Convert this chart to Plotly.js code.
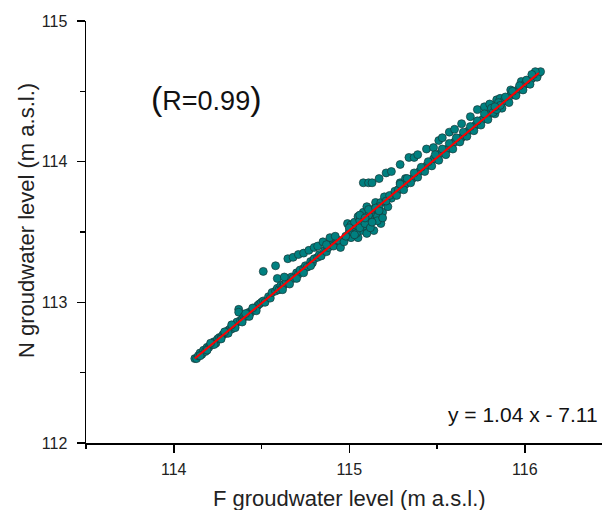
<!DOCTYPE html>
<html>
<head>
<meta charset="utf-8">
<script src="https://cdn.plot.ly/plotly-3.0.1.min.js"></script>
<style>html,body{margin:0;padding:0;background:#fff;}#chart{width:602px;height:510px;}</style>
</head>
<body>
<div id="chart"></div>
<script>
// F groundwater level (x) vs N groundwater level (y)
const bandAX = [114.12,114.13,114.14,114.15,114.16,114.17,114.18,114.19,114.20,114.21,114.22,114.23,114.24,114.25,114.26,114.27,114.28,114.29,114.30,114.31,114.32,114.33,114.34,114.35,114.36,114.37,114.37,114.38,114.39,114.40,114.41,114.42,114.43,114.44,114.45,114.46,114.47,114.48,114.49,114.50,
  114.15,114.19,114.23,114.27,114.31,114.35,114.39,114.43,114.47,114.21,114.29,114.33,114.41,114.45];
const bandAY = [112.60,112.60,112.62,112.64,112.63,112.66,112.65,112.68,112.68,112.70,112.70,112.72,112.71,112.74,112.75,112.75,112.77,112.78,112.78,112.80,112.81,112.81,112.83,112.84,112.86,112.95,112.93,112.87,112.88,112.90,112.90,112.92,112.93,112.93,112.95,112.96,112.96,112.98,112.99,113.00,
  112.62,112.66,112.70,112.74,112.78,112.82,112.86,112.90,112.94,112.71,112.79,112.84,112.92,112.96];

const bandBX = [114.51,114.52,114.54,114.55,114.56,114.58,114.59,114.60,114.61,114.62,114.63,114.64,114.66,114.67,114.68,114.70,114.71,114.72,114.74,114.75,114.76,114.78,114.79,114.80,114.82,114.83,114.84,114.86,114.87,114.88,114.90,114.91,114.93,114.94,
  114.62,114.66,114.70,114.74,114.78,
  114.51,114.58,114.59,114.63,114.65,114.68,114.71,114.74,114.77,114.80,114.82,114.85,114.89,114.87,114.92];
const bandBY = [113.01,113.00,113.04,113.03,113.07,113.08,113.10,113.09,113.12,113.11,113.13,113.15,113.16,113.18,113.17,113.21,113.20,113.23,113.24,113.26,113.25,113.29,113.28,113.31,113.32,113.34,113.33,113.37,113.36,113.39,113.41,113.40,113.44,113.44,
  113.09,113.13,113.17,113.21,113.26,
  113.22,113.26,113.17,113.18,113.31,113.32,113.34,113.35,113.37,113.39,113.40,113.43,113.46,113.41,113.47];

const knotX = [114.95,114.97,114.99,115.01,115.01,115.03,115.05,115.05,115.07,115.08,115.08,115.10,115.10,115.12,115.14,115.14,115.15,115.16,115.18,115.18,115.19,115.20,115.22,115.24,115.26,115.28,115.29,115.32,115.00,115.04,115.06,115.11,115.13,115.17,115.21,115.23,
  115.02,115.04,115.06,115.09,115.12,115.16,115.13,115.06,115.09,115.11,115.15,115.17,114.98,115.00,115.03,115.19];
const knotY = [113.39,113.43,113.56,113.46,113.55,113.57,113.46,113.61,113.51,113.54,113.64,113.49,113.68,113.59,113.51,113.64,113.71,113.61,113.56,113.71,113.64,113.75,113.68,113.74,113.78,113.80,113.85,113.88,113.50,113.52,113.58,113.62,113.66,113.68,113.72,113.76,
  113.50,113.49,113.53,113.56,113.53,113.58,113.57,113.62,113.60,113.66,113.67,113.65,113.47,113.53,113.48,113.60];

const upperX = [115.08,115.11,115.13,115.17,115.21,115.24,115.29,115.34,115.37,115.39,115.44,115.48,115.51,115.53,115.57,115.60,115.64,115.69,115.73,115.77,115.80,115.84,115.86,115.92,115.98];
const upperY = [113.85,113.85,113.85,113.88,113.92,113.93,113.98,114.03,114.03,114.05,114.09,114.10,114.15,114.17,114.21,114.23,114.27,114.32,114.37,114.39,114.41,114.44,114.45,114.51,114.57];

const bandDX = [115.26,115.28,115.30,115.32,115.34,115.36,115.38,115.40,115.42,115.44,115.46,115.48,115.50,115.52,115.54,115.56,115.58,115.60,115.62,115.64,115.66,115.68,115.70,115.72,115.74,115.76,115.78,115.80,115.82,115.84,115.86,115.88,115.90,115.92,115.94,115.96,115.98,116.00,116.02,116.04,116.06,116.08,
  115.27,115.31,115.35,115.39,115.43,115.47,115.51,115.55,115.59,115.63,115.67,115.71,115.75,115.79,115.83,115.87,115.91,115.95,115.99,116.03,116.07,
  115.29,115.33,115.37,115.41,115.45,115.49,115.53,115.57,115.61,115.65,115.69,115.73,115.77,115.81,115.85,115.89,115.93,115.97,116.01,116.05,
  115.82,115.84,115.86,115.83,116.09,116.06,116.04];
const bandDY = [113.79,113.80,113.83,113.84,113.87,113.88,113.91,113.93,113.95,113.97,113.99,114.02,114.03,114.06,114.08,114.09,114.12,114.14,114.16,114.17,114.20,114.22,114.24,114.26,114.28,114.30,114.33,114.34,114.37,114.39,114.40,114.43,114.45,114.47,114.48,114.51,114.53,114.55,114.57,114.59,114.61,114.63,
  113.76,113.80,113.85,113.89,113.93,113.97,114.01,114.05,114.09,114.14,114.18,114.22,114.26,114.30,114.34,114.38,114.42,114.47,114.51,114.55,114.60,
  113.84,113.88,113.92,113.96,114.00,114.05,114.09,114.13,114.17,114.21,114.25,114.29,114.34,114.38,114.42,114.46,114.50,114.54,114.58,114.62,
  114.35,114.37,114.40,114.39,114.64,114.64,114.62];

const fitX = [114.12, 116.08];
const fitY = [112.60, 114.63];

const xTickVals = [114, 115, 116];
const yTickVals = [112, 113, 114, 115];
const xTitle = 'F groudwater level (m a.s.l.)';
const yTitle = 'N groudwater level (m a.s.l.)';
const rText = '<span style="font-size:34px">(</span>R=0.99<span style="font-size:34px">)</span>';
const eqText = 'y = 1.04 x - 7.11';

const allX = [].concat(bandAX, bandBX, knotX, upperX, bandDX);
const allY = [].concat(bandAY, bandBY, knotY, upperY, bandDY);

const FONT = 'Arial, "Liberation Sans", sans-serif';

const traces = [
  {
    x: allX, y: allY, type: 'scatter', mode: 'markers',
    marker: {size: 8, color: 'rgb(0,128,128)', line: {color: 'rgb(25,55,55)', width: 0.7}},
    hoverinfo: 'skip', showlegend: false
  },
  {
    x: fitX, y: fitY, type: 'scatter', mode: 'lines',
    line: {color: 'rgb(255,0,0)', width: 2},
    hoverinfo: 'skip', showlegend: false
  }
];

const axisCommon = {
  showgrid: false, zeroline: false, showline: true, linecolor: '#000', linewidth: 1.5,
  ticks: 'outside', ticklen: 8, tickwidth: 1.5, tickcolor: '#000',
  tickfont: {family: FONT, size: 16, color: '#222'},
  minor: {dtick: 0.5, ticks: 'outside', ticklen: 4.5, tickwidth: 1.5, tickcolor: '#000', showgrid: false},
  automargin: false
};

const layout = {
  width: 602, height: 510,
  margin: {l: 86, r: 0, t: 21, b: 67},
  paper_bgcolor: '#fff', plot_bgcolor: '#fff',
  font: {family: FONT, color: '#222'},
  xaxis: Object.assign({}, axisCommon, {
    range: [113.5, 116.44], tickvals: xTickVals, ticktext: xTickVals.map(String),
    ticklabelstandoff: 3
  }),
  yaxis: Object.assign({}, axisCommon, {
    range: [112, 115], tickvals: yTickVals, ticktext: yTickVals.map(String),
    ticklabelstandoff: 6
  }),
  annotations: [
    {xref: 'paper', yref: 'paper', x: 0.2326, y: 0.8175, xanchor: 'center', yanchor: 'middle',
     text: rText, showarrow: false, font: {family: FONT, size: 27, color: '#111'}},
    {xref: 'paper', yref: 'paper', x: 0.997, y: 0.0664, xanchor: 'right', yanchor: 'middle',
     text: eqText, showarrow: false, font: {family: FONT, size: 21, color: '#111'}},
    {xref: 'paper', yref: 'paper', x: 0.5107, y: -0.1327, xanchor: 'center', yanchor: 'middle',
     text: xTitle, showarrow: false, font: {family: FONT, size: 22, color: '#222'}},
    {xref: 'paper', yref: 'paper', x: -0.1163, y: 0.5284, xanchor: 'center', yanchor: 'middle',
     textangle: -90, text: yTitle, showarrow: false, font: {family: FONT, size: 22, color: '#222'}}
  ]
};

Plotly.newPlot('chart', traces, layout, {staticPlot: true, displayModeBar: false});
</script>
</body>
</html>
